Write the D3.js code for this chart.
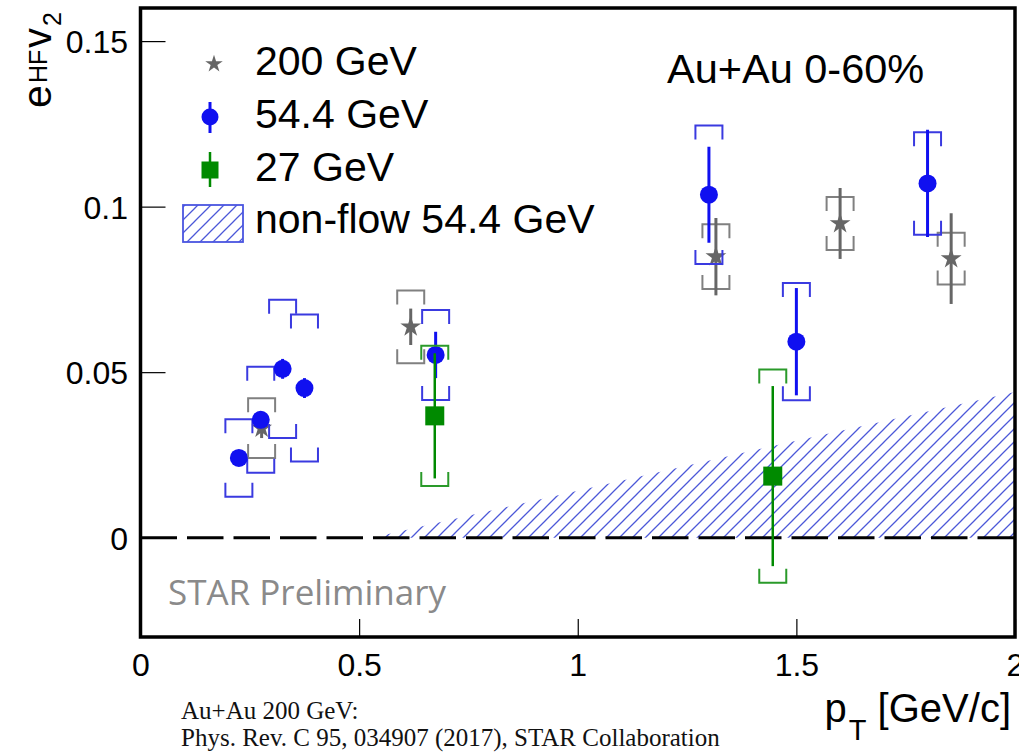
<!DOCTYPE html>
<html>
<head>
<meta charset="utf-8">
<script src="https://cdn.jsdelivr.net/npm/d3@7"></script>
<style>
  html, body { margin: 0; padding: 0; background: #fff; }
  svg { display: block; }
</style>
</head>
<body>
<svg id="chart" width="1019" height="752"></svg>
<script>
// ---------- data ----------
// 54.4 GeV
const ptB    = [0.225, 0.275, 0.325, 0.375, 0.675, 1.30, 1.50, 1.80];
const v2B    = [0.0241, 0.0356, 0.0510, 0.0452, 0.0552, 0.1036, 0.0592, 0.1070];
const statB  = [0.0020, 0.0025, 0.0030, 0.0030, 0.0070, 0.0145, 0.0162, 0.0162];
const sysB   = [0.0117, 0.0160, 0.0209, 0.0222, 0.0136, 0.0209, 0.0177, 0.0155];
// 200 GeV
const ptS    = [0.277, 0.618, 1.316, 1.600, 1.854];
const v2S    = [0.0331, 0.0637, 0.0849, 0.0949, 0.0843];
const statS  = [0.0030, 0.0055, 0.0117, 0.0107, 0.0137];
const sysS   = [0.0090, 0.0110, 0.0098, 0.0080, 0.0078];
// 27 GeV
const ptG    = [0.673, 1.446];
const v2G    = [0.0368, 0.0186];
const statG  = [0.0189, 0.0272];
const sysG   = [0.0212, 0.0322];
// non-flow band 54.4 GeV (lower edge 0, upper edge)
const nfPt   = [0.53, 1.0, 1.5, 2.0];
const nfUp   = [0.0, 0.0142, 0.0293, 0.044];

const xTicks = [0, 0.5, 1, 1.5, 2];
const xTickLabels = ["0", "0.5", "1", "1.5", "2"];
const yTicks = [0, 0.05, 0.1, 0.15];
const yTickLabels = ["0", "0.05", "0.1", "0.15"];
const legendLabels = ["200 GeV", "54.4 GeV", "27 GeV", "non-flow 54.4 GeV"];

// ---------- setup ----------
const svg = d3.select("#chart");
const L = 140.5, R = 1015, T = 8, B = 637;
const x = d3.scaleLinear().domain([0, 2]).range([L, R]);
const y = d3.scaleLinear().domain([-0.03, 0.16]).range([B, T]);

const SANS = "'Liberation Sans', Arial, Helvetica, sans-serif";
const cBlue = "#1010f0", cBlueSys = "#3a3ae0";
const cGray = "#666666", cGraySys = "#808080";
const cGreen = "#008a00", cGreenSys = "#2a9a2a";
const cHatch = "#4c58d8";

// hatch pattern
const defs = svg.append("defs");
const hw = 13;
const pat = defs.append("pattern").attr("id", "hatch")
  .attr("patternUnits", "userSpaceOnUse").attr("width", hw).attr("height", hw);
pat.append("path")
  .attr("d", `M0,${hw} L${hw},0 M${-hw/4},${hw/4} L${hw/4},${-hw/4} M${3*hw/4},${5*hw/4} L${5*hw/4},${3*hw/4}`)
  .attr("stroke", cHatch).attr("stroke-width", 1.3).attr("fill", "none");

defs.append("clipPath").attr("id", "plotclip").append("rect")
  .attr("x", L).attr("y", T).attr("width", R - L).attr("height", B - T);

const plot = svg.append("g").attr("clip-path", "url(#plotclip)");

// non-flow band
const area = d3.area().x((d, i) => x(nfPt[i])).y0(() => y(0)).y1((d, i) => y(nfUp[i]));
plot.append("path").datum(nfPt).attr("d", area).attr("fill", "url(#hatch)");

// dashed zero line
plot.append("line")
  .attr("x1", x(0)).attr("x2", x(2)).attr("y1", y(0)).attr("y2", y(0))
  .attr("stroke", "#000").attr("stroke-width", 3).attr("stroke-dasharray", "36.5 10");

// ---------- series drawing ----------
const bw = 13.5, leg = 14;
function drawSys(pts, vals, sys, color) {
  const g = plot.append("g").attr("fill", "none").attr("stroke", color).attr("stroke-width", 2);
  pts.forEach((p, i) => {
    const cx = x(p), yt = y(vals[i] + sys[i]), yb = y(vals[i] - sys[i]);
    g.append("path").attr("d", `M${cx-bw},${yt+leg} L${cx-bw},${yt} L${cx+bw},${yt} L${cx+bw},${yt+leg}`);
    g.append("path").attr("d", `M${cx-bw},${yb-leg} L${cx-bw},${yb} L${cx+bw},${yb} L${cx+bw},${yb-leg}`);
  });
}
function drawStat(pts, vals, stat, color, w) {
  const g = plot.append("g").attr("stroke", color).attr("stroke-width", w);
  pts.forEach((p, i) => {
    g.append("line").attr("x1", x(p)).attr("x2", x(p))
      .attr("y1", y(vals[i] + stat[i])).attr("y2", y(vals[i] - stat[i]));
  });
}

const starSym = d3.symbol().type(d3.symbolStar).size(135);

// 200 GeV
drawSys(ptS, v2S, sysS, cGraySys);
drawStat(ptS, v2S, statS, cGray, 3);
plot.append("g").selectAll("path").data(ptS).join("path")
  .attr("transform", (d, i) => `translate(${x(d)},${y(v2S[i])})`)
  .attr("d", starSym).attr("fill", cGray);

// 54.4 GeV
drawSys(ptB, v2B, sysB, cBlueSys);
drawStat(ptB, v2B, statB, cBlue, 3);
plot.append("g").selectAll("circle").data(ptB).join("circle")
  .attr("cx", d => x(d)).attr("cy", (d, i) => y(v2B[i])).attr("r", 9).attr("fill", cBlue);

// 27 GeV
drawSys(ptG, v2G, sysG, cGreenSys);
drawStat(ptG, v2G, statG, cGreen, 2.5);
plot.append("g").selectAll("rect").data(ptG).join("rect")
  .attr("x", d => x(d) - 9.5).attr("y", (d, i) => y(v2G[i]) - 9.5)
  .attr("width", 19).attr("height", 19).attr("fill", cGreen);

// ---------- axes ----------
const yAxis = d3.axisLeft(y).tickValues(yTicks).tickSize(-25).tickPadding(12.5)
  .tickFormat((d, i) => yTickLabels[i]);
const gy = svg.append("g").attr("transform", `translate(${L},0)`).call(yAxis);
gy.select(".domain").remove();
gy.selectAll(".tick line").attr("stroke", "#000").attr("stroke-width", 1.2);
gy.selectAll(".tick text").attr("font-family", SANS).attr("font-size", 32)
  .attr("fill", "#000").attr("dy", "0.36em");

const xAxis = d3.axisBottom(x).tickValues(xTicks).tickSize(-18).tickPadding(16)
  .tickFormat((d, i) => xTickLabels[i]);
const gx = svg.append("g").attr("transform", `translate(0,${B})`).call(xAxis);
gx.select(".domain").remove();
gx.selectAll(".tick line").attr("stroke", "#000").attr("stroke-width", 1.2);
gx.selectAll(".tick text").attr("font-family", SANS).attr("font-size", 32).attr("fill", "#000");

// frame
svg.append("rect").attr("x", L).attr("y", T).attr("width", R - L).attr("height", B - T)
  .attr("fill", "none").attr("stroke", "#000").attr("stroke-width", 3.5);

// ---------- texts ----------
// y title
const yt = svg.append("g").attr("transform", "translate(51,108) rotate(-90)")
  .attr("font-family", SANS).attr("fill", "#000");
yt.append("text").attr("x", 0).attr("y", 0).attr("font-size", 41).text("e");
yt.append("text").attr("x", 25).attr("y", -4).attr("font-size", 25).text("HF");
yt.append("text").attr("x", 60).attr("y", 0).attr("font-size", 40).text("v");
yt.append("text").attr("x", 82).attr("y", 10).attr("font-size", 25).text("2");

// x title
const xt = svg.append("text").attr("font-family", SANS).attr("fill", "#000")
  .attr("text-anchor", "end").attr("x", 1011).attr("y", 722);
xt.append("tspan").attr("font-size", 40).text("p");
xt.append("tspan").attr("font-size", 29).attr("dy", 18).attr("dx", 2).text("T");
xt.append("tspan").attr("font-size", 40).attr("dy", -18).text(" [GeV/c]");

svg.append("text").attr("x", 667).attr("y", 83).attr("font-family", SANS)
  .attr("font-size", 41.5).attr("fill", "#000").text("Au+Au 0-60%");

svg.append("text").attr("x", 168).attr("y", 605)
  .attr("font-family", "'Open Sans', 'Noto Sans', sans-serif")
  .attr("font-size", 35).attr("fill", "#8a8a8a").text("STAR Preliminary");

const SERIF = "'Liberation Serif', 'Times New Roman', serif";
svg.append("text").attr("x", 181).attr("y", 719).attr("font-family", SERIF)
  .attr("font-size", 25).attr("fill", "#111").text("Au+Au 200 GeV:");
svg.append("text").attr("x", 181).attr("y", 746).attr("font-family", SERIF)
  .attr("font-size", 25).attr("fill", "#111").text("Phys. Rev. C 95, 034907 (2017), STAR Collaboration");

// ---------- legend ----------
const lg = svg.append("g");
const legY = [75, 128, 181, 233];
legendLabels.forEach((t, i) => {
  lg.append("text").attr("x", 255).attr("y", legY[i]).attr("font-family", SANS)
    .attr("font-size", 41).attr("fill", "#000").text(t);
});
lg.append("path").attr("transform", "translate(214,64)")
  .attr("d", d3.symbol().type(d3.symbolStar).size(95)).attr("fill", cGray);
lg.append("line").attr("x1", 210).attr("x2", 210).attr("y1", 102).attr("y2", 133)
  .attr("stroke", cBlue).attr("stroke-width", 3);
lg.append("circle").attr("cx", 210).attr("cy", 117).attr("r", 8.5).attr("fill", cBlue);
lg.append("line").attr("x1", 210).attr("x2", 210).attr("y1", 152).attr("y2", 187)
  .attr("stroke", cGreen).attr("stroke-width", 2.5);
lg.append("rect").attr("x", 201.5).attr("y", 161.5).attr("width", 17).attr("height", 17).attr("fill", cGreen);
lg.append("rect").attr("x", 183).attr("y", 205).attr("width", 60).attr("height", 37)
  .attr("fill", "url(#hatch)").attr("stroke", "#4a55e0").attr("stroke-width", 1.8);
</script>
</body>
</html>
